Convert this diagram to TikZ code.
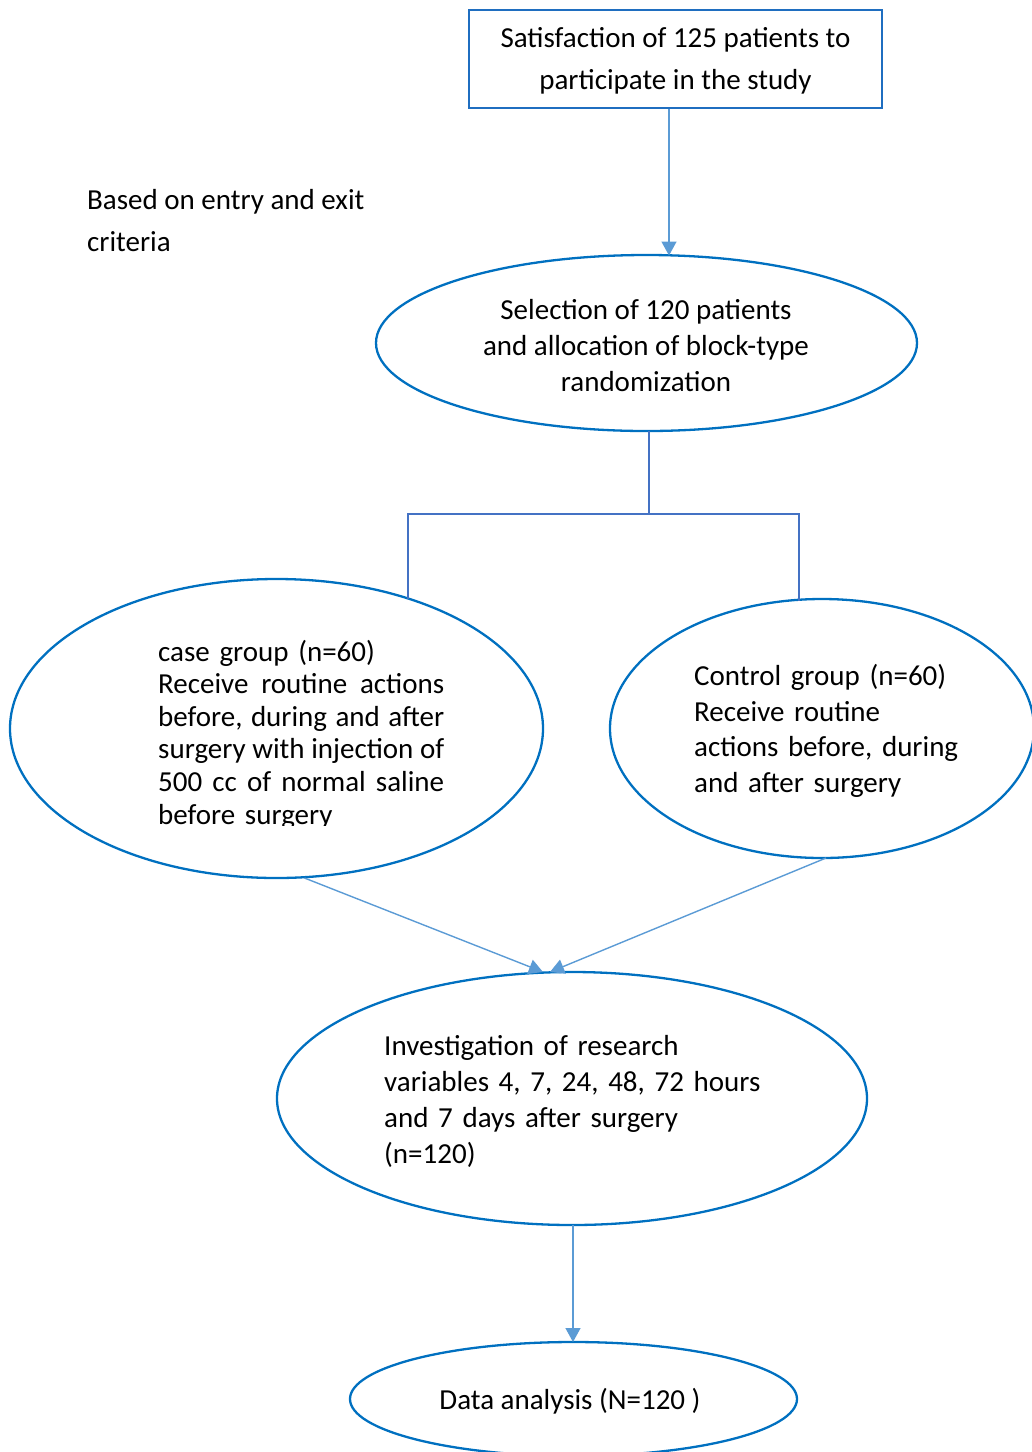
\documentclass[tikz,border=0pt]{standalone}
\usepackage{fontspec}
\setmainfont{Carlito}
\usetikzlibrary{shapes.geometric,arrows.meta,calc}
\definecolor{ellblue}{HTML}{0070C0}
\definecolor{boxblue}{HTML}{1F6EC0}
\definecolor{conblue}{HTML}{5B9BD5}
\definecolor{brblue}{HTML}{4472C4}
\tikzset{
  ell/.style={ellipse, draw=ellblue, line width=2.3pt, inner sep=0pt, outer sep=0pt},
  txt/.style={inner sep=0pt, font=\fontsize{29}{36}\selectfont},
  conn/.style={draw=conblue, line width=1.4pt},
  arr/.style={conn, -{Triangle[length=14pt,width=15pt]}},
}
\newcommand{\jline}[1]{\makebox[286pt][l]{#1}}
\begin{document}
\begin{tikzpicture}[x=1pt,y=-1pt]
\useasboundingbox (0,0) rectangle (1032,1452);
% top box
\node[draw=boxblue, line width=2.3pt, minimum width=413pt, minimum height=98pt, inner sep=0pt] (sat) at (675.5,59) {};
\node[txt, align=center, font=\fontsize{29}{42}\selectfont] (sattxt) at (675.5,61) {Satisfaction of 125 patients to\\participate in the study};
% side label
\node[txt, align=left, anchor=west, font=\fontsize{29}{42}\selectfont] (crit) at (87,221) {Based on entry and exit\\criteria};
% selection
\node[ell, minimum width=541pt, minimum height=176pt] (sel) at (646.5,343) {};
\node[txt, align=center] (seltxt) at (646,346) {Selection of 120 patients\\and allocation of block-type\\randomization};
% case group
\node[ell, minimum width=533pt, minimum height=299pt] (case) at (276.5,728.5) {};
\begin{scope}
\clip (140,620) rectangle (470,825);
\node[txt, align=left, text width=286pt, anchor=west, font=\fontsize{29}{32.6}\selectfont] (casetxt) at (158,734.5)
{case group (n=60)\\
\jline{Receive\hfill routine\hfill actions}\\
\jline{before,\hfill during\hfill and\hfill after}\\
\jline{surgery\hfill with\hfill injection\hfill of}\\
\jline{500\hfill cc\hfill of\hfill normal\hfill saline}\\
before surgery};
\end{scope}
% control group
\node[ell, minimum width=424pt, minimum height=259pt] (ctrl) at (822,728.5) {};
\node[txt, align=left, text width=300pt, anchor=west, font=\fontsize{29}{35.7}\selectfont] (ctrltxt) at (694,731) {Control group (n=60)\\Receive routine\\actions before, during\\and after surgery};
% investigation
\node[ell, minimum width=590pt, minimum height=253pt] (inv) at (572,1098.5) {};
\node[txt, align=left, text width=420pt, anchor=west] (invtxt) at (384,1101) {Investigation of research\\variables 4, 7, 24, 48, 72 hours\\and 7 days after surgery\\(n=120)};
% data analysis
\node[ell, minimum width=447pt, minimum height=114pt] (data) at (573.5,1399) {};
\node[txt] (datatxt) at (570,1401) {Data analysis (N=120 )};
% connectors
\draw[arr] (sat.south -| 669,0) -- (669,255.5);
\coordinate (j) at (649,514);
\coordinate (bl) at (408,599);
\coordinate (br) at (799,601);
\draw[draw=brblue, line width=1.4pt] (sel.south -| j) -- (j);
\draw[draw=brblue, line width=1.4pt] (bl) |- (j) -| (br);
\draw[arr] ($(case.south)+(28,0)$) -- (543,972);
\draw[arr] ($(ctrl.south)+(4,0)$) -- (550,972);
\draw[arr] (inv.south -| 573,0) -- (573,1342);
\end{tikzpicture}
\end{document}
